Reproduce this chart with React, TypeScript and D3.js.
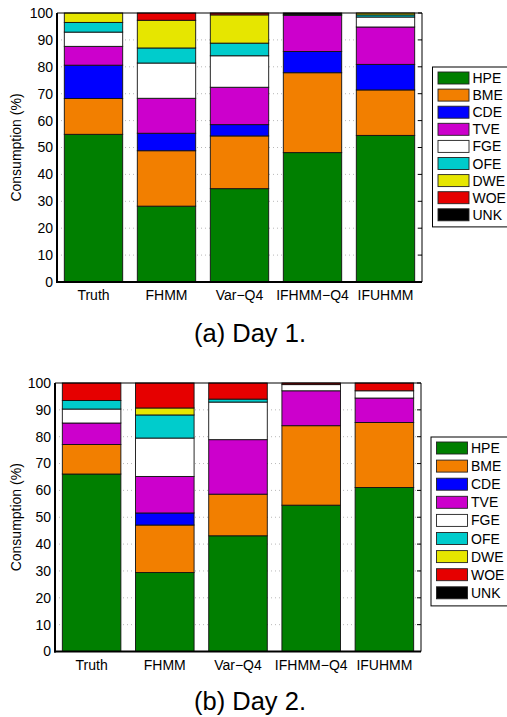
import React from "react";
import * as d3 from "d3";

const methods = ["Truth", "FHMM", "Var\u2212Q4", "IFHMM\u2212Q4", "IFUHMM"];
const appliances = ["HPE", "BME", "CDE", "TVE", "FGE", "OFE", "DWE", "WOE", "UNK"];
const colors = ["#007f00", "#f27f00", "#0000ff", "#cc00cc", "#ffffff", "#00cccc", "#e6e600", "#e60000", "#000000"];
const yTicks = [0, 10, 20, 30, 40, 50, 60, 70, 80, 90, 100];

// consumption share per appliance, one value per method
const day1 = {
  HPE: [54.9, 28.2, 34.7, 48.1, 54.5],
  BME: [13.3, 20.6, 19.6, 29.7, 16.9],
  CDE: [12.4, 6.5, 4.2, 7.9, 9.5],
  TVE: [7.0, 13.0, 13.9, 13.4, 13.9],
  FGE: [5.3, 13.1, 11.7, 0.4, 3.7],
  OFE: [3.6, 5.6, 4.7, 0, 0.8],
  DWE: [3.5, 10.3, 10.5, 0, 0.7],
  WOE: [0, 2.7, 0.7, 0, 0],
  UNK: [0, 0, 0, 0.5, 0],
};

const day2 = {
  HPE: [66.1, 29.4, 43.1, 54.5, 61.1],
  BME: [11.0, 17.7, 15.5, 29.6, 24.2],
  CDE: [0, 4.5, 0, 0, 0],
  TVE: [8.0, 13.6, 20.3, 13.0, 9.1],
  FGE: [5.2, 14.3, 14.0, 2.3, 2.7],
  OFE: [3.2, 8.6, 1.1, 0, 0],
  DWE: [0, 2.6, 0, 0, 0],
  WOE: [6.5, 9.3, 6.0, 0.6, 2.9],
  UNK: [0, 0, 0, 0, 0],
};

const FONT = "'Liberation Sans', Arial, sans-serif";

type Panel = {
  data: Record<string, number[]>;
  left: number;
  right: number;
  top: number;
  bottom: number;
  legend: { x: number; y: number; step: number };
  caption: string;
  captionY: number;
};

const StackChart = ({ data, left, right, top, bottom, legend, caption, captionY }: Panel) => {
  const rows = methods.map((m, i) => {
    const r: any = { method: m };
    appliances.forEach((a) => (r[a] = data[a][i]));
    return r;
  });
  const series = d3.stack().keys(appliances)(rows);

  const x = d3.scaleBand().domain(methods).range([left, right]).paddingInner(0.2).paddingOuter(0.1);
  const y = d3.scaleLinear().domain([0, 100]).range([bottom, top]);

  const legendH = legend.step * appliances.length + 6;

  return (
    <g fontFamily={FONT}>
      {/* dotted grid, sits behind the bars */}
      {yTicks.slice(1, -1).map((t) => (
        <line key={"g" + t} x1={left} x2={right} y1={y(t)} y2={y(t)}
          stroke="#888" strokeWidth={0.6} strokeDasharray="1,3" />
      ))}
      {series.map((s, si) => (
        <g key={s.key} fill={colors[si]}>
          {s.map((d, i) =>
            d[1] - d[0] > 0 ? (
              <rect key={i} x={x(methods[i])} width={x.bandwidth()} y={y(d[1])}
                height={y(d[0]) - y(d[1])} stroke="#111" strokeWidth={0.9} />
            ) : null
          )}
        </g>
      ))}
      {/* frame */}
      <line x1={left} x2={right} y1={top} y2={top} stroke="#000" strokeWidth={1} />
      <line x1={right} x2={right} y1={top} y2={bottom} stroke="#000" strokeWidth={1} />
      <line x1={left} x2={left} y1={top} y2={bottom + 1} stroke="#000" strokeWidth={2} />
      <line x1={left - 1} x2={right} y1={bottom} y2={bottom} stroke="#000" strokeWidth={2} />
      {yTicks.map((t) => (
        <g key={"t" + t}>
          <line x1={right} x2={right - 4} y1={y(t)} y2={y(t)} stroke="#000" strokeWidth={1} />
          <text x={left - 4} y={y(t)} dy="0.35em" textAnchor="end" fontSize={14}>{t}</text>
        </g>
      ))}
      {methods.map((m) => (
        <text key={m} x={x(m)! + x.bandwidth() / 2} y={bottom + 18} textAnchor="middle" fontSize={14}>{m}</text>
      ))}
      <text transform={`translate(21,${(top + bottom) / 2}) rotate(-90)`} textAnchor="middle" fontSize={14}>
        Consumption (%)
      </text>
      {/* legend */}
      <rect x={legend.x} y={legend.y} width={90} height={legendH} fill="#fff" stroke="#000" strokeWidth={1} />
      {appliances.map((a, i) => {
        const cy = legend.y + 11 + i * legend.step;
        return (
          <g key={a}>
            <rect x={legend.x + 5.5} y={cy - 6} width={31} height={12} fill={colors[i]} stroke="#222" strokeWidth={0.9} />
            <text x={legend.x + 40} y={cy} dy="0.36em" fontSize={14}>{a}</text>
          </g>
        );
      })}
      <text x={250} y={captionY} textAnchor="middle" fontSize={25.5}>{caption}</text>
    </g>
  );
};

export default function App() {
  return (
    <div style={{ position: "absolute", left: 0, top: 0 }}>
      <svg width={507} height={717} style={{ display: "block", background: "#fff" }}>
        <StackChart data={day1} left={57} right={422} top={13} bottom={282}
          legend={{ x: 432.5, y: 67, step: 17.1 }} caption="(a) Day 1." captionY={342} />
        <StackChart data={day2} left={55} right={421} top={383} bottom={651.5}
          legend={{ x: 431, y: 437, step: 18.1 }} caption="(b) Day 2." captionY={710} />
      </svg>
    </div>
  );
}
